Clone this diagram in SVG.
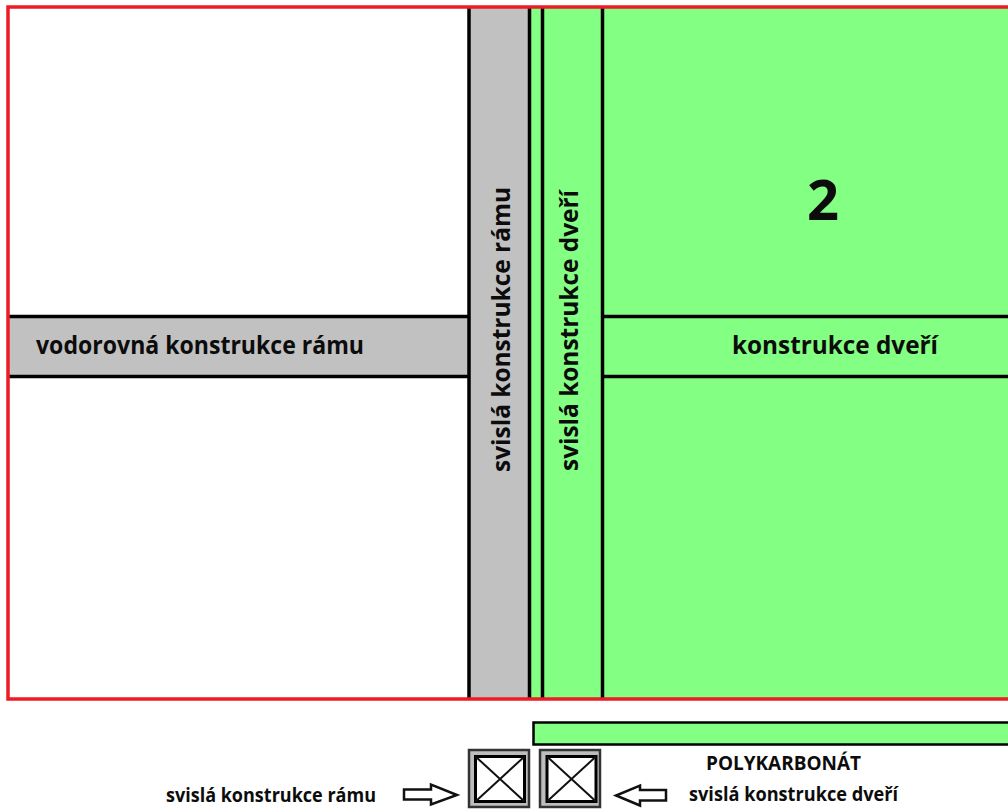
<svg xmlns="http://www.w3.org/2000/svg" width="1008" height="810" viewBox="0 0 1008 810">
<style>
.t{font-family:"Open Sans","Liberation Sans",sans-serif;font-weight:700;fill:#0c0c0c}
.l{stroke:#000;stroke-width:3.500;fill:none}
.b{font-size:25px}
.s{font-size:19px}
.a{fill:#fff;stroke:#111;stroke-width:2.500}
.o{fill:#bdbdbd;stroke:#333;stroke-width:2.500}
.i{fill:#fff;stroke:#000;stroke-width:3}
.x{stroke:#111;stroke-width:2;fill:none}
</style>
<rect width="1008" height="810" fill="#fff"/>
<g id="door"><rect x="530" y="8" width="478" height="691" fill="#83ff83"/></g>
<g id="frame-v"><rect x="469" y="8" width="61" height="691" fill="#c1c1c1"/></g>
<g id="frame-h"><rect x="8" y="317" width="461" height="60" fill="#c1c1c1"/></g>
<g id="lines">
<path class="l" d="M469 8V699M529.500 8V699M542.500 8V699M602.500 8V699M8 316.500H469M8 376.500H469M602 316.500H1008M602 376.500H1008"/>
</g>
<g id="border"><path d="M1010 7H8V699H1010" fill="none" stroke="#ed1c24" stroke-width="3.500"/></g>
<text class="t b" x="36" y="354" textLength="328" lengthAdjust="spacingAndGlyphs">vodorovná konstrukce rámu</text>
<text class="t b" x="732" y="354" textLength="206" lengthAdjust="spacingAndGlyphs">konstrukce dveří</text>
<text class="t b" transform="translate(509.500 472) rotate(-90)" textLength="285" lengthAdjust="spacingAndGlyphs">svislá konstrukce rámu</text>
<text class="t b" transform="translate(578 471) rotate(-90)" textLength="281" lengthAdjust="spacingAndGlyphs">svislá konstrukce dveří</text>
<text class="t" x="807" y="220" font-size="56">2</text>
<g id="polycarbonate"><rect x="533.500" y="722.500" width="480" height="22" fill="#83ff83" stroke="#000" stroke-width="2.500"/></g>
<g id="section-frame"><rect class="o" x="469" y="750" width="60" height="57"/><rect class="i" x="475.500" y="756.500" width="49" height="45"/><path class="x" d="M475.500 756.500L524.500 801.500M524.500 756.500L475.500 801.500"/></g>
<g id="section-door"><rect class="o" x="540" y="750" width="60" height="57"/><rect class="i" x="547" y="756.500" width="49" height="45"/><path class="x" d="M547 756.500L596 801.500M596 756.500L547 801.500"/></g>
<g id="connectors">
<path class="a" d="M404 789.500H431V784.500L457 795L431 804.500V799.500H404Z"/>
<path class="a" d="M666 790H640V785.500L616 795.500L640 805.500V800.500H666Z"/>
</g>
<text class="t s" x="166" y="802" textLength="210" lengthAdjust="spacingAndGlyphs">svislá konstrukce rámu</text>
<text class="t s" x="689" y="801" textLength="209" lengthAdjust="spacingAndGlyphs">svislá konstrukce dveří</text>
<text class="t s" x="706" y="770" textLength="155" lengthAdjust="spacingAndGlyphs">POLYKARBONÁT</text>
</svg>
